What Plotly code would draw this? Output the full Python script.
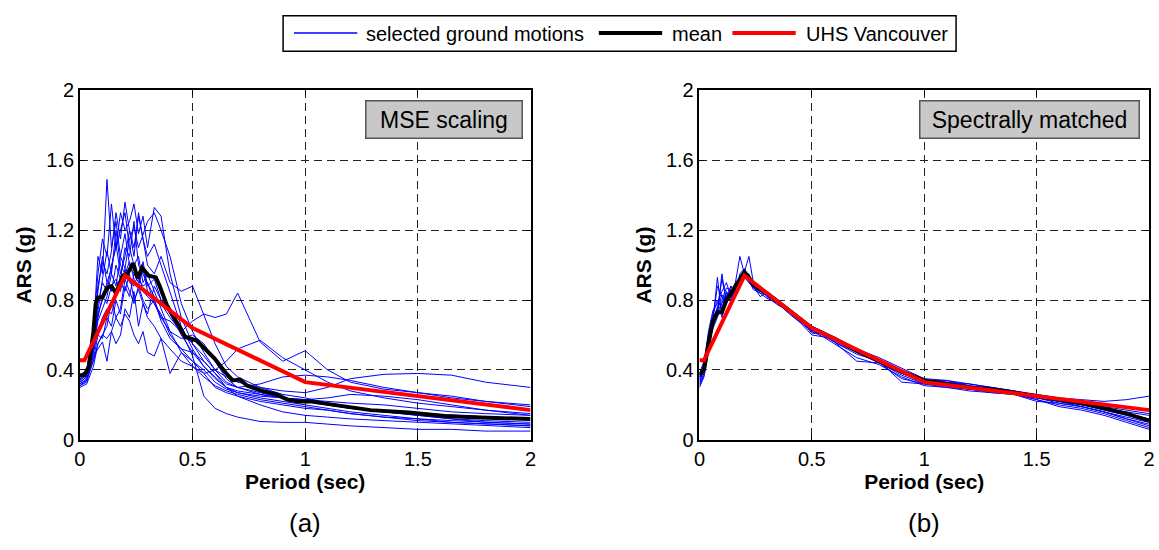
import plotly.graph_objects as go

# ---------------- data ----------------
period_a = [0.0, 0.03, 0.06, 0.08, 0.1, 0.12, 0.14, 0.16, 0.18, 0.2, 0.22, 0.24, 0.26, 0.28, 0.3, 0.33, 0.36,
            0.4, 0.45, 0.5, 0.55, 0.6, 0.65, 0.7, 0.8, 0.9, 1.0, 1.1, 1.2, 1.35, 1.5, 1.65, 1.8, 2.0]

gm_mse = [
    [0.33, 0.36, 0.62, 1.05, 0.95, 1.49, 1.10, 1.25, 1.05, 1.18, 1.00, 0.95, 0.92, 0.88, 0.90, 0.78, 0.72, 0.60, 0.52, 0.45, 0.40, 0.33, 0.29, 0.27, 0.24, 0.22, 0.20, 0.18, 0.16, 0.14, 0.12, 0.11, 0.10, 0.09],
    [0.35, 0.38, 0.55, 0.78, 0.90, 0.85, 1.00, 1.10, 1.30, 1.20, 1.25, 1.35, 1.18, 1.28, 1.10, 1.33, 1.28, 0.95, 0.70, 0.55, 0.45, 0.38, 0.32, 0.30, 0.27, 0.24, 0.22, 0.20, 0.18, 0.16, 0.15, 0.14, 0.13, 0.12],
    [0.34, 0.40, 0.60, 0.85, 1.05, 0.90, 0.98, 1.12, 0.95, 1.05, 1.20, 1.05, 1.30, 1.15, 1.00, 0.95, 1.05, 0.90, 0.85, 0.88, 0.72, 0.55, 0.42, 0.36, 0.30, 0.26, 0.24, 0.21, 0.19, 0.16, 0.14, 0.12, 0.11, 0.10],
    [0.32, 0.35, 0.45, 0.55, 0.60, 0.65, 0.80, 0.70, 0.75, 0.92, 0.85, 0.78, 0.88, 0.80, 0.75, 0.80, 0.70, 0.68, 0.62, 0.68, 0.72, 0.70, 0.72, 0.84, 0.56, 0.45, 0.51, 0.40, 0.33, 0.29, 0.27, 0.25, 0.22, 0.19],
    [0.32, 0.34, 0.50, 0.62, 0.70, 0.75, 0.72, 0.82, 0.90, 0.85, 0.95, 0.80, 0.86, 0.78, 0.70, 0.65, 0.58, 0.52, 0.45, 0.42, 0.38, 0.40, 0.45, 0.52, 0.57, 0.47, 0.40, 0.33, 0.28, 0.24, 0.21, 0.19, 0.17, 0.15],
    [0.30, 0.32, 0.42, 0.55, 0.60, 0.58, 0.62, 0.70, 0.65, 0.72, 0.68, 0.60, 0.55, 0.62, 0.50, 0.48, 0.58, 0.38, 0.50, 0.45, 0.38, 0.30, 0.27, 0.25, 0.22, 0.20, 0.18, 0.17, 0.15, 0.13, 0.12, 0.10, 0.09, 0.08],
    [0.31, 0.34, 0.48, 0.52, 0.56, 0.45, 0.62, 0.55, 0.60, 0.75, 0.70, 0.85, 0.65, 0.78, 0.72, 0.88, 0.80, 0.75, 0.62, 0.48, 0.25, 0.18, 0.15, 0.13, 0.105, 0.10, 0.10, 0.09, 0.08, 0.07, 0.06, 0.06, 0.05, 0.05],
    [0.36, 0.38, 0.50, 0.72, 0.80, 0.90, 0.85, 1.00, 0.92, 1.10, 1.05, 1.25, 1.00, 0.95, 0.90, 0.82, 0.78, 0.70, 0.62, 0.55, 0.48, 0.40, 0.36, 0.33, 0.30, 0.28, 0.27, 0.30, 0.35, 0.375, 0.38, 0.37, 0.33, 0.30],
    [0.37, 0.40, 0.65, 0.95, 1.15, 1.05, 1.35, 1.10, 1.20, 1.30, 1.10, 1.00, 1.05, 0.90, 0.95, 0.85, 0.75, 0.62, 0.50, 0.42, 0.36, 0.31, 0.28, 0.26, 0.23, 0.21, 0.19, 0.17, 0.15, 0.13, 0.11, 0.10, 0.09, 0.08],
    [0.34, 0.37, 0.58, 0.88, 1.02, 0.95, 1.08, 1.30, 1.15, 1.36, 1.20, 1.10, 1.28, 1.15, 1.05, 1.12, 1.00, 0.85, 0.65, 0.52, 0.42, 0.35, 0.30, 0.28, 0.26, 0.24, 0.23, 0.22, 0.21, 0.20, 0.18, 0.16, 0.15, 0.14],
    [0.33, 0.36, 0.52, 0.68, 0.75, 0.82, 0.95, 0.88, 1.05, 0.98, 1.15, 1.22, 1.10, 1.18, 1.25, 1.30, 1.20, 1.05, 0.78, 0.62, 0.50, 0.40, 0.33, 0.30, 0.26, 0.24, 0.22, 0.20, 0.18, 0.16, 0.14, 0.12, 0.10, 0.09],
    [0.35, 0.38, 0.60, 0.70, 0.82, 0.78, 0.88, 0.92, 0.85, 0.98, 0.90, 0.88, 0.95, 0.85, 0.82, 0.78, 0.70, 0.62, 0.58, 0.60, 0.55, 0.45, 0.35, 0.30, 0.32, 0.36, 0.37, 0.36, 0.34, 0.30, 0.27, 0.24, 0.22, 0.20],
    [0.31, 0.33, 0.46, 0.60, 0.58, 0.70, 0.65, 0.80, 0.72, 0.88, 0.82, 0.95, 0.90, 1.02, 0.88, 0.92, 0.80, 0.72, 0.60, 0.50, 0.42, 0.36, 0.30, 0.27, 0.25, 0.24, 0.23, 0.24, 0.26, 0.25, 0.23, 0.20, 0.17, 0.14],
    [0.36, 0.39, 0.55, 0.75, 0.92, 1.08, 0.95, 1.20, 1.00, 0.95, 1.02, 0.92, 0.88, 0.98, 0.85, 0.80, 0.68, 0.58, 0.52, 0.50, 0.45, 0.38, 0.30, 0.25, 0.20, 0.16, 0.14, 0.13, 0.12, 0.11, 0.10, 0.09, 0.08, 0.07],
]

mean_a_period = [0.0, 0.02, 0.04, 0.06, 0.07, 0.08, 0.1, 0.12, 0.14, 0.16, 0.19, 0.21, 0.237, 0.256, 0.276, 0.305,
                 0.337, 0.354, 0.386, 0.435, 0.467, 0.49, 0.516, 0.548, 0.597, 0.646, 0.678, 0.71, 0.743, 0.808,
                 0.873, 0.92, 0.97, 1.02, 1.13, 1.29, 1.46, 1.62, 1.78, 2.0]
mean_a = [0.37, 0.37, 0.42, 0.62, 0.78, 0.815, 0.815, 0.87, 0.88, 0.84, 0.94, 0.95, 1.01, 0.925, 0.985, 0.94,
          0.93, 0.88, 0.77, 0.66, 0.59, 0.58, 0.57, 0.53, 0.467, 0.385, 0.34, 0.345, 0.31, 0.28,
          0.26, 0.23, 0.22, 0.22, 0.20, 0.17, 0.156, 0.137, 0.128, 0.119]

period_b = [0.0, 0.02, 0.04, 0.06, 0.08, 0.1, 0.12, 0.14, 0.16, 0.18, 0.2, 0.22, 0.24, 0.27, 0.3, 0.35, 0.4, 0.45,
            0.5, 0.55, 0.6, 0.7, 0.8, 0.9, 1.0, 1.1, 1.2, 1.3, 1.4, 1.5, 1.6, 1.7, 1.8, 1.9, 2.0]

gm_matched = [
    [0.35, 0.42, 0.60, 0.72, 0.80, 0.75, 0.85, 0.80, 0.88, 0.92, 0.96, 0.90, 0.88, 0.86, 0.83, 0.78, 0.74, 0.68, 0.63, 0.60, 0.57, 0.51, 0.44, 0.38, 0.33, 0.32, 0.30, 0.28, 0.26, 0.24, 0.22, 0.20, 0.18, 0.16, 0.14],
    [0.38, 0.45, 0.55, 0.68, 0.93, 0.70, 0.82, 0.88, 0.84, 0.95, 0.98, 0.93, 0.89, 0.85, 0.84, 0.80, 0.73, 0.70, 0.65, 0.62, 0.58, 0.52, 0.46, 0.40, 0.34, 0.33, 0.31, 0.29, 0.27, 0.25, 0.23, 0.21, 0.19, 0.15, 0.12],
    [0.32, 0.38, 0.52, 0.65, 0.72, 0.95, 0.78, 0.86, 0.82, 0.90, 0.94, 0.95, 0.87, 0.88, 0.82, 0.79, 0.75, 0.69, 0.61, 0.61, 0.56, 0.50, 0.44, 0.35, 0.32, 0.31, 0.29, 0.28, 0.27, 0.24, 0.21, 0.19, 0.16, 0.12, 0.09],
    [0.36, 0.40, 0.58, 0.70, 0.88, 0.82, 0.78, 0.84, 0.90, 1.05, 0.95, 0.91, 0.86, 0.84, 0.83, 0.78, 0.74, 0.69, 0.64, 0.60, 0.58, 0.50, 0.46, 0.39, 0.33, 0.33, 0.32, 0.30, 0.28, 0.26, 0.24, 0.23, 0.22, 0.23, 0.25],
    [0.30, 0.36, 0.50, 0.66, 0.75, 0.92, 0.80, 0.83, 0.85, 0.93, 0.96, 1.05, 0.90, 0.86, 0.83, 0.79, 0.74, 0.68, 0.62, 0.59, 0.57, 0.51, 0.45, 0.38, 0.34, 0.32, 0.30, 0.29, 0.27, 0.25, 0.22, 0.19, 0.16, 0.12, 0.08],
    [0.37, 0.43, 0.62, 0.74, 0.78, 0.85, 0.90, 0.82, 0.86, 0.91, 0.97, 0.92, 0.88, 0.82, 0.84, 0.78, 0.73, 0.67, 0.60, 0.59, 0.55, 0.47, 0.43, 0.36, 0.31, 0.30, 0.29, 0.27, 0.26, 0.23, 0.20, 0.18, 0.15, 0.11, 0.07],
    [0.33, 0.40, 0.56, 0.64, 0.70, 0.78, 0.83, 0.79, 0.86, 0.88, 0.93, 0.90, 0.87, 0.85, 0.84, 0.79, 0.75, 0.70, 0.64, 0.62, 0.58, 0.52, 0.46, 0.39, 0.34, 0.34, 0.32, 0.30, 0.28, 0.25, 0.23, 0.21, 0.19, 0.17, 0.15],
    [0.34, 0.41, 0.54, 0.69, 0.76, 0.80, 0.87, 0.85, 0.83, 0.89, 0.95, 0.93, 0.89, 0.86, 0.82, 0.77, 0.74, 0.68, 0.63, 0.60, 0.56, 0.49, 0.45, 0.33, 0.32, 0.31, 0.29, 0.28, 0.27, 0.24, 0.22, 0.20, 0.17, 0.14, 0.11],
    [0.36, 0.42, 0.58, 0.67, 0.74, 0.83, 0.79, 0.88, 0.84, 0.92, 0.96, 0.93, 0.88, 0.86, 0.83, 0.80, 0.74, 0.69, 0.65, 0.61, 0.57, 0.52, 0.47, 0.41, 0.35, 0.34, 0.31, 0.29, 0.27, 0.23, 0.19, 0.17, 0.14, 0.10, 0.06],
    [0.31, 0.37, 0.53, 0.71, 0.73, 0.79, 0.84, 0.81, 0.87, 0.93, 0.97, 0.91, 0.87, 0.84, 0.81, 0.78, 0.72, 0.67, 0.62, 0.60, 0.56, 0.45, 0.44, 0.37, 0.32, 0.30, 0.28, 0.27, 0.26, 0.22, 0.21, 0.19, 0.16, 0.13, 0.10],
]

mean_b = [0.37, 0.40, 0.55, 0.68, 0.73, 0.73, 0.80, 0.84, 0.87, 0.92, 0.96, 0.93, 0.89, 0.86, 0.84, 0.79, 0.74, 0.69,
          0.64, 0.61, 0.58, 0.51, 0.45, 0.39, 0.34, 0.32, 0.30, 0.29, 0.27, 0.25, 0.23, 0.21, 0.18, 0.15, 0.11]

uhs_period = [0.0, 0.02, 0.2, 0.5, 1.0, 2.0]
uhs_sa = [0.455, 0.455, 0.94, 0.64, 0.33, 0.17]

x_ticks = [0, 0.5, 1, 1.5, 2]
x_ticktext = ["0", "0.5", "1", "1.5", "2"]
y_ticks = [0, 0.4, 0.8, 1.2, 1.6, 2]
y_ticktext = ["0", "0.4", "0.8", "1.2", "1.6", "2"]

legend_names = ["selected ground motions", "mean", "UHS Vancouver"]
panel_boxes = ["MSE scaling", "Spectrally matched"]
panel_labels = ["(a)", "(b)"]

# ---------------- figure ----------------
W, H = 1159, 550
FONT = "Arial, Liberation Sans, Helvetica, sans-serif"
BLUE, BLACK, RED = "#0000ff", "#000000", "#ff0000"


def px(x):
    return x / W


def py(y):
    return 1 - y / H


fig = go.Figure()

panels = [
    ("x", "y", period_a, gm_mse, mean_a_period, mean_a),
    ("x2", "y2", period_b, gm_matched, period_b, mean_b),
]
for xa, ya, per, gms, mper, mval in panels:
    for g in gms:
        fig.add_trace(go.Scatter(x=per, y=g, mode="lines", xaxis=xa, yaxis=ya,
                                 line=dict(color=BLUE, width=1), showlegend=False,
                                 name=legend_names[0]))
    fig.add_trace(go.Scatter(x=mper, y=mval, mode="lines", xaxis=xa, yaxis=ya,
                             line=dict(color=BLACK, width=4), showlegend=False,
                             name=legend_names[1]))
    fig.add_trace(go.Scatter(x=uhs_period, y=uhs_sa, mode="lines", xaxis=xa, yaxis=ya,
                             line=dict(color=RED, width=4), showlegend=False,
                             name=legend_names[2]))

dom_y = [py(446.7), py(82.7)]
dom_x1 = [px(74.7), px(530.0)]
dom_x2 = [px(700.7), px(1155.0)]

common_x = dict(range=[0, 2], tickmode="array", tickvals=x_ticks, ticktext=x_ticktext,
                showline=True, linecolor="black", linewidth=1.5, mirror="ticks",
                ticks="inside", ticklen=5, tickwidth=1, tickcolor="black",
                showgrid=True, gridcolor="#222222", gridwidth=1, griddash="8px,5px",
                zeroline=False, tickfont=dict(family=FONT, size=20, color="black"),
                title=dict(text="<b>Period (sec)</b>", font=dict(family=FONT, size=21, color="black"),
                           standoff=3),
                fixedrange=True)
common_y = dict(range=[0, 2], tickmode="array", tickvals=y_ticks, ticktext=y_ticktext,
                showline=True, linecolor="black", linewidth=1.5, mirror="ticks",
                ticks="inside", ticklen=5, tickwidth=1, tickcolor="black",
                showgrid=True, gridcolor="#222222", gridwidth=1, griddash="8px,5px",
                zeroline=False, tickfont=dict(family=FONT, size=20, color="black"),
                title=dict(text="<b>ARS (g)</b>", font=dict(family=FONT, size=21, color="black"),
                           standoff=9),
                fixedrange=True)

fig.update_layout(
    width=W, height=H, autosize=False,
    margin=dict(l=0, r=0, t=0, b=0),
    paper_bgcolor="white", plot_bgcolor="white",
    showlegend=False,
    xaxis=dict(domain=dom_x1, anchor="y", **common_x),
    yaxis=dict(domain=dom_y, anchor="x", **common_y),
    xaxis2=dict(domain=dom_x2, anchor="y2", **common_x),
    yaxis2=dict(domain=dom_y, anchor="x2", **common_y),
)

# panel text boxes
box_specs = [("x", "y", 1.967, 1.947, 157), ("x2", "y2", 1.958, 1.945, 220)]
for (xr, yr, bx, by, bw), txt in zip(box_specs, panel_boxes):
    fig.add_annotation(x=bx, y=by, xref=xr, yref=yr, xanchor="right", yanchor="top",
                       text=txt, showarrow=False, align="center", valign="middle",
                       width=bw - 6, height=32, borderpad=2, borderwidth=1.5,
                       bordercolor="#555555", bgcolor="#c8c8c8",
                       font=dict(family=FONT, size=23, color="black"))

# panel labels (a), (b)
for cx, lab in zip([(74.7 + 530.0) / 2, (700.7 + 1155.0) / 2], panel_labels):
    fig.add_annotation(x=px(cx), y=py(533), xref="paper", yref="paper",
                       xanchor="center", yanchor="middle", text=lab, showarrow=False,
                       font=dict(family=FONT, size=26, color="black"))

# custom legend (box, line samples, labels)
shapes = [dict(type="rect", xref="paper", yref="paper", x0=px(280), x1=px(960), y0=py(42), y1=py(5),
               line=dict(color="black", width=1.5), fillcolor="white", layer="above")]
leg_items = [(291, 355, 362, BLUE, 1.5), (599, 663, 671, BLACK, 4), (734, 798, 806, RED, 4)]
for (l0, l1, tx, col, lw), name in zip(leg_items, legend_names):
    shapes.append(dict(type="line", xref="paper", yref="paper", x0=px(l0), x1=px(l1), y0=py(23), y1=py(23),
                       line=dict(color=col, width=lw), layer="above"))
    fig.add_annotation(x=px(tx), y=py(23.5), xref="paper", yref="paper", xanchor="left", yanchor="middle",
                       text=name, showarrow=False, font=dict(family=FONT, size=20, color="black"))
fig.update_layout(shapes=shapes)

fig.write_html("out.html", config={"displayModeBar": False})
